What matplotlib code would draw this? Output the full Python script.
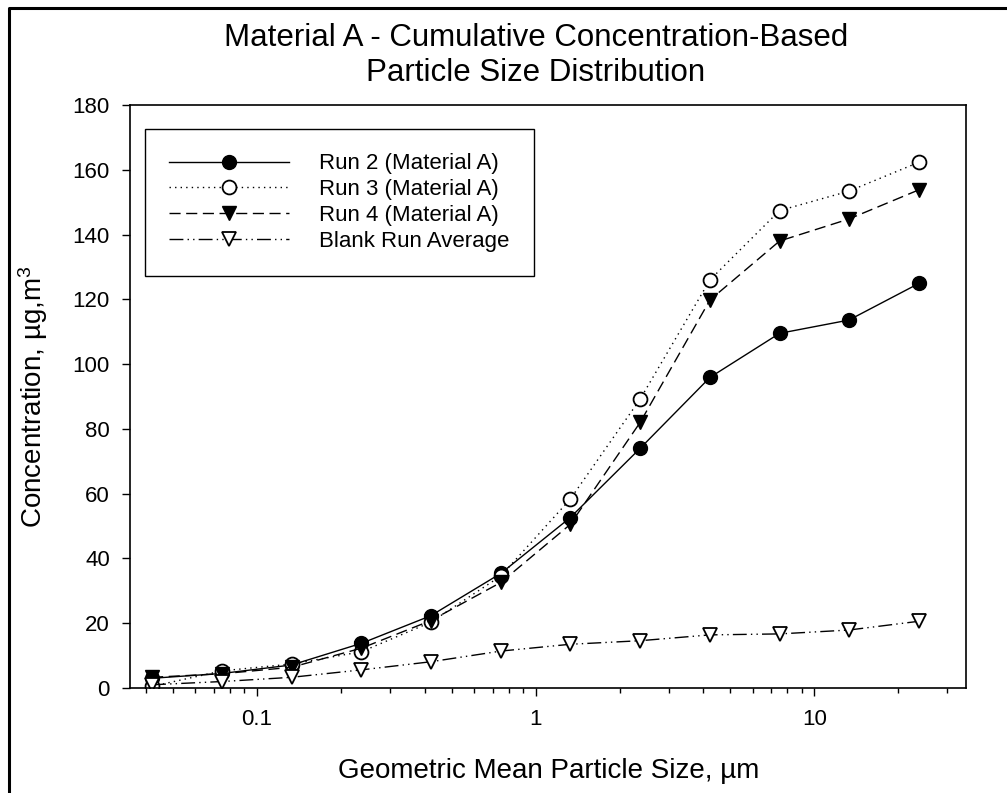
import matplotlib
matplotlib.use("Agg")
import matplotlib.pyplot as plt
from matplotlib.lines import Line2D
from matplotlib.ticker import LogLocator, FixedLocator, NullFormatter

plt.rcParams['font.family'] = ['Liberation Sans', 'DejaVu Sans']
plt.rcParams['mathtext.fontset'] = 'custom'
plt.rcParams['mathtext.rm'] = 'Liberation Sans'
plt.rcParams['mathtext.default'] = 'regular'

# geometric mean particle size (um)
taille = [0.042, 0.075, 0.133, 0.237, 0.42, 0.75, 1.33, 2.37, 4.22, 7.5, 13.3, 23.7]

run2 = [3.0, 4.5, 7.1, 13.8, 22.3, 35.4, 52.6, 74.0, 95.9, 109.5, 113.6, 124.9]
run3 = [0.5, 5.3, 7.4, 11.2, 20.3, 34.6, 58.3, 89.2, 126.0, 147.4, 153.4, 162.3]
run4 = [3.3, 4.4, 6.4, 12.3, 20.8, 32.6, 50.5, 82.0, 119.8, 138.0, 144.8, 153.8]
blank = [1.0, 2.0, 3.3, 5.6, 8.1, 11.4, 13.5, 14.6, 16.4, 16.7, 17.9, 20.6]

etiquettes = ["Run 2 (Material A)", "Run 3 (Material A)",
              "Run 4 (Material A)", "Blank Run Average"]

fig = plt.figure(figsize=(10.07, 7.93), dpi=100)
ax = fig.add_axes([130/1007, 1-688/793, 836/1007, 583/793])

ms = 10
lw = 1.0
ax.plot(taille, run2, color="black", lw=lw, ls="-", marker="o", ms=ms,
        mfc="black", mec="black", label=etiquettes[0])
ax.plot(taille, run3, color="black", lw=lw, ls=(0, (1, 3)), marker="o", ms=ms,
        mfc="white", mec="black", mew=1.3, label=etiquettes[1])
ax.plot(taille, run4, color="black", lw=lw, ls=(0, (8, 4)), marker="v", ms=ms,
        mfc="black", mec="black", label=etiquettes[2])
ax.plot(taille, blank, color="black", lw=lw, ls=(0, (10, 3, 1, 3, 1, 3)), marker="v",
        ms=ms, mfc="white", mec="black", mew=1.3, label=etiquettes[3])

ax.set_xscale("log")
ax.set_xlim(0.035, 35)
ax.set_ylim(0, 180)
ax.set_xticks([0.1, 1, 10])
ax.set_xticklabels(["0.1", "1", "10"])
ax.xaxis.set_minor_locator(LogLocator(base=10, subs=range(2, 10)))
ax.xaxis.set_minor_formatter(NullFormatter())
ax.yaxis.set_major_locator(FixedLocator(range(0, 181, 20)))
ax.tick_params(which="major", direction="out", length=5.8, width=1, labelsize=16)
ax.tick_params(which="minor", direction="out", length=3.6, width=1)
ax.tick_params(axis="y", which="major", pad=8.6)
ax.tick_params(axis="x", which="major", pad=9.5)
for s in ax.spines.values():
    s.set_linewidth(1.2)

leg = ax.legend(loc="upper left", bbox_to_anchor=(0.018, 0.959), borderaxespad=0,
                fontsize=16, numpoints=1, handlelength=5.4, handletextpad=1.35,
                fancybox=False, framealpha=1, edgecolor="black",
                borderpad=1.1, labelspacing=0.22)
leg.get_frame().set_linewidth(1.0)

fig.text(536/1007, 1-46/793, "Material A - Cumulative Concentration-Based",
         ha="center", va="baseline", fontsize=22.5)
fig.text(536/1007, 1-81/793, "Particle Size Distribution",
         ha="center", va="baseline", fontsize=22.5)
fig.text(33/1007, 1-397/793, "Concentration, µg,m$^3$", rotation=90,
         ha="center", va="center", fontsize=20)
fig.text(549/1007, 1-771/793, "Geometric Mean Particle Size, µm",
         ha="center", va="center", fontsize=20)

# cadre de la figure
fig.add_artist(Line2D([9/1007, 9/1007, 1], [0, 1-8/793, 1-8/793],
                      transform=fig.transFigure, color="black", lw=2.2))

fig.savefig("out.png", dpi=100)
